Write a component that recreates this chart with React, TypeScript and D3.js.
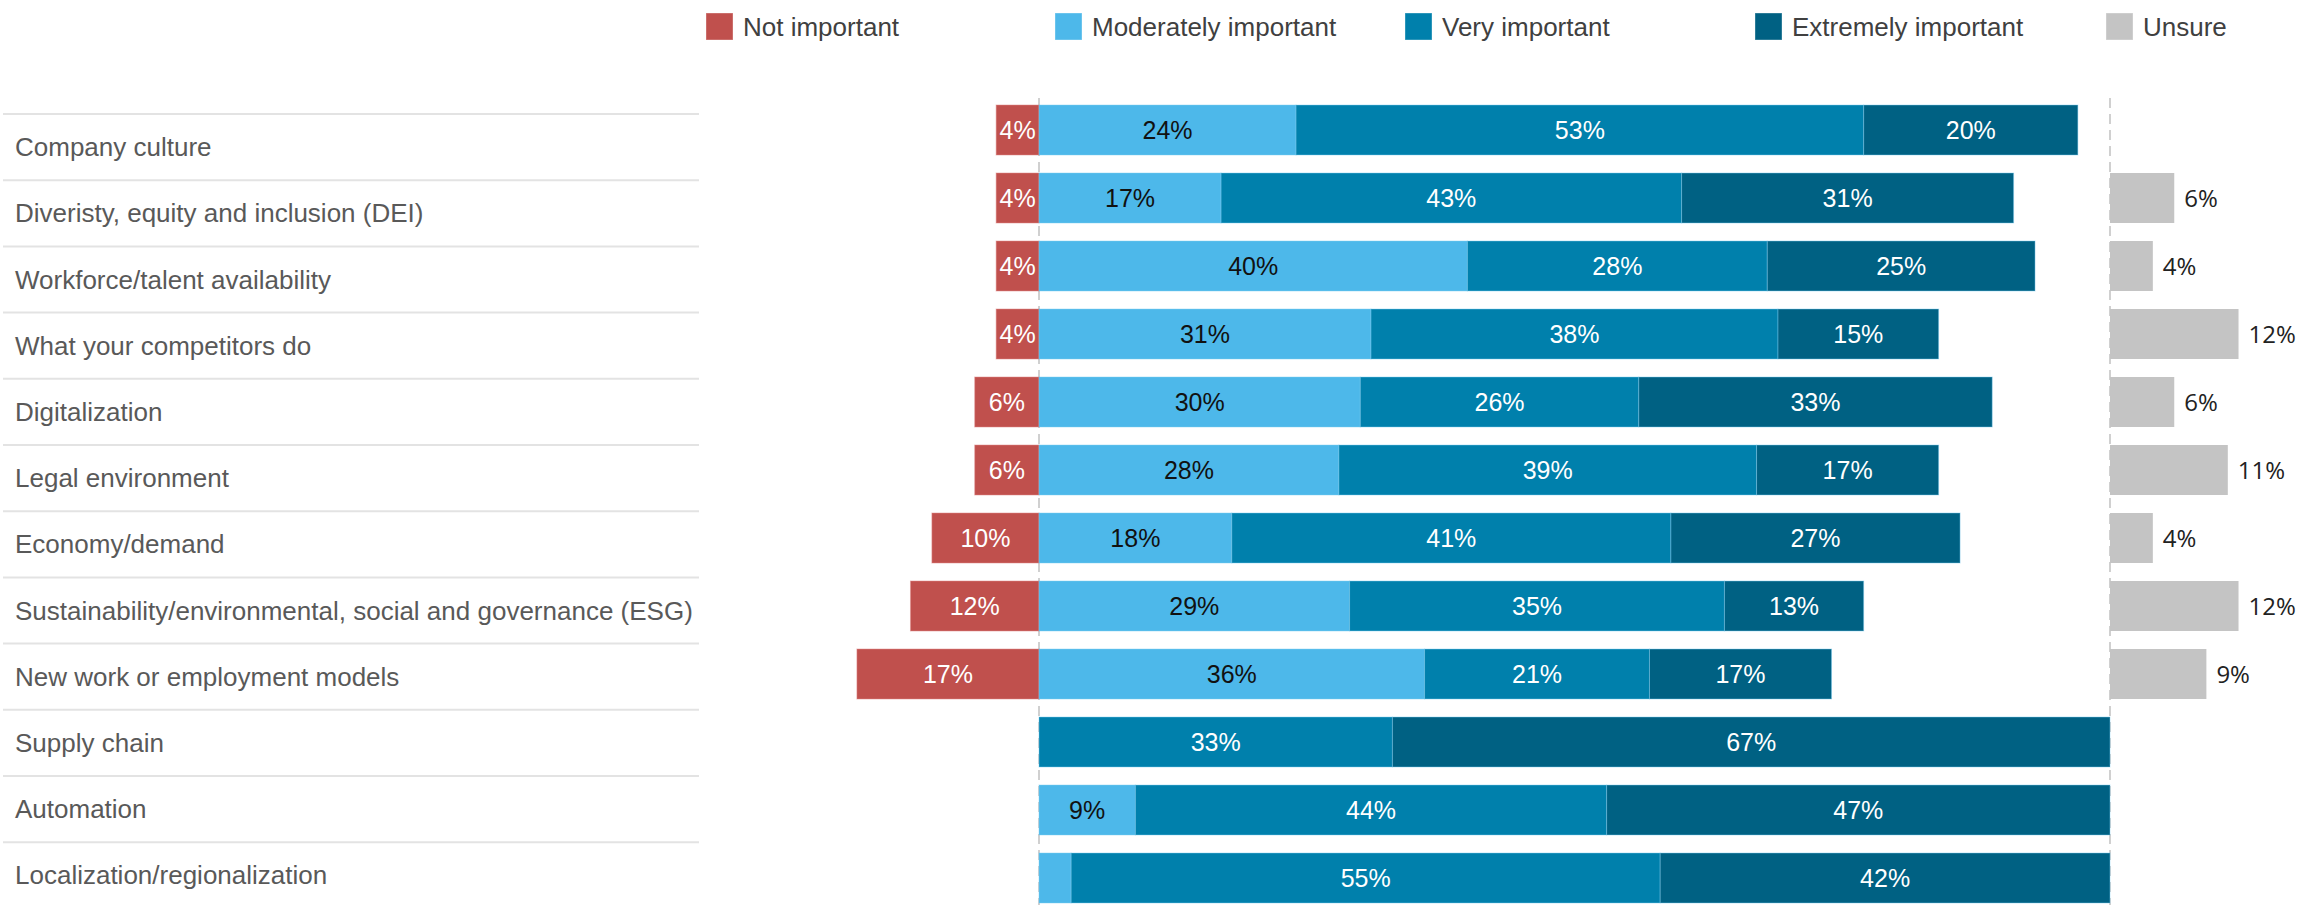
import { useEffect } from 'react';
import * as d3 from 'd3';

const categories = [
  'Company culture',
  'Diveristy, equity and inclusion (DEI)',
  'Workforce/talent availability',
  'What your competitors do',
  'Digitalization',
  'Legal environment',
  'Economy/demand',
  'Sustainability/environmental, social and governance (ESG)',
  'New work or employment models',
  'Supply chain',
  'Automation',
  'Localization/regionalization',
];

const notImportant = [4, 4, 4, 4, 6, 6, 10, 12, 17, 0, 0, 0];
const moderately = [24, 17, 40, 31, 30, 28, 18, 29, 36, 0, 9, 3];
const very = [53, 43, 28, 38, 26, 39, 41, 35, 21, 33, 44, 55];
const extremely = [20, 31, 25, 15, 33, 17, 27, 13, 17, 67, 47, 42];
const unsure = [0, 6, 4, 12, 6, 11, 4, 12, 9, 0, 0, 0];

const legendLabels = ['Not important', 'Moderately important', 'Very important', 'Extremely important', 'Unsure'];

const W = 2298;
const H = 905;
const FONT = '"Liberation Sans", Arial, sans-serif';

const colors = {
  not: '#c0504d',
  moderately: '#4db8ea',
  very: '#0080ac',
  extremely: '#006183',
  unsure: '#c4c4c4',
};
const legendColors = [colors.not, colors.moderately, colors.very, colors.extremely, colors.unsure];
const legendX = [706, 1055, 1405, 1755, 2106];

export default function App() {
  useEffect(() => {
    document.body.style.margin = '0';
  }, []);

  const x = d3.scaleLinear().domain([0, 100]).range([1039, 2110]);

  // bars sit on a 68px step, the label table on a slightly tighter one
  const y = d3
    .scaleBand<string>()
    .domain(categories)
    .range([96, 96 + categories.length * 68])
    .paddingInner(18 / 68)
    .paddingOuter(9 / 68);

  const rowY = d3
    .scaleBand<string>()
    .domain(categories)
    .range([114, 114 + categories.length * 66.2]);

  const rows = categories.map((c, i) => ({
    cat: c,
    moderately: moderately[i],
    very: very[i],
    extremely: extremely[i],
  }));

  const keys = ['moderately', 'very', 'extremely'] as const;
  const stacked = d3.stack<any>().keys(keys as any)(rows);

  const bh = y.bandwidth();

  return (
    <svg width={W} height={H} style={{ display: 'block', background: '#fff' }} fontFamily={FONT}>
      {/* legend */}
      {legendLabels.map((l, i) => (
        <g key={l} transform={`translate(${legendX[i]},13)`}>
          <rect width={27} height={27} fill={legendColors[i]} stroke="#fff" strokeOpacity={0.35} strokeWidth={1} />
          <text x={37} y={14} dy="0.35em" fontSize={26} fill="#404040">
            {l}
          </text>
        </g>
      ))}

      {/* row separators and labels */}
      {categories.map((c) => (
        <g key={c}>
          <line x1={3} x2={699} y1={rowY(c)!} y2={rowY(c)!} stroke="#e3e3e3" strokeWidth={2} />
          <text x={15} y={rowY(c)! + rowY.bandwidth() / 2} dy="0.35em" fontSize={26} fill="#595959">
            {c}
          </text>
        </g>
      ))}

      {/* reference lines */}
      {[0, 100].map((v) => (
        <line
          key={v}
          x1={x(v)}
          x2={x(v)}
          y1={98}
          y2={H}
          stroke="#d0d0d0"
          strokeWidth={2}
          strokeDasharray="10,6"
        />
      ))}

      {/* not important (left of zero) */}
      {categories.map((c, i) =>
        notImportant[i] > 0 ? (
          <g key={c}>
            <rect
              x={x(-notImportant[i])}
              y={y(c)!}
              width={x(0) - x(-notImportant[i])}
              height={bh}
              fill={colors.not}
              stroke="#e08a88"
              strokeOpacity={0.5}
              strokeWidth={1}
            />
            <text
              x={(x(-notImportant[i]) + x(0)) / 2}
              y={y(c)! + bh / 2}
              dy="0.35em"
              textAnchor="middle"
              fontSize={25}
              fill="#fff"
            >
              {notImportant[i]}%
            </text>
          </g>
        ) : null
      )}

      {/* stacked positive segments */}
      {stacked.map((series) => (
        <g key={series.key}>
          {series.map((d, i) => {
            const v = d[1] - d[0];
            if (v <= 0) return null;
            const x0 = x(d[0]);
            const x1 = x(d[1]);
            const light = series.key === 'moderately';
            return (
              <g key={i}>
                <rect
                  x={x0}
                  y={y(categories[i])!}
                  width={x1 - x0}
                  height={bh}
                  fill={(colors as any)[series.key]}
                  stroke="#7fcbef"
                  strokeOpacity={0.45}
                  strokeWidth={1}
                />
                {v >= 4 && (
                  <text
                    x={(x0 + x1) / 2}
                    y={y(categories[i])! + bh / 2}
                    dy="0.35em"
                    textAnchor="middle"
                    fontSize={25}
                    fill={light ? '#111' : '#fff'}
                  >
                    {v}%
                  </text>
                )}
              </g>
            );
          })}
        </g>
      ))}

      {/* unsure */}
      {categories.map((c, i) =>
        unsure[i] > 0 ? (
          <g key={c}>
            <rect
              x={x(100)}
              y={y(c)!}
              width={x(100 + unsure[i]) - x(100)}
              height={bh}
              fill={colors.unsure}
            />
            <text
              x={x(100 + unsure[i]) + 10}
              y={y(c)! + bh / 2}
              dy="0.36em"
              fontSize={24}
              fontFamily='"Open Sans", sans-serif'
              fill="#222"
            >
              {unsure[i]}%
            </text>
          </g>
        ) : null
      )}
    </svg>
  );
}
